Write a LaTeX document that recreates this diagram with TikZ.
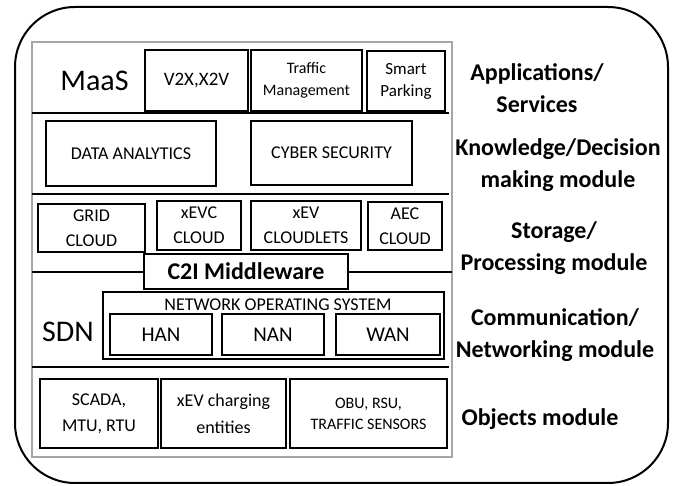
\documentclass[tikz,border=0pt]{standalone}
\usepackage{fontspec}
\setmainfont{Carlito}

\begin{document}
\begin{tikzpicture}[x=1pt, y=-1pt,
	box/.style={draw, line width=1.2pt, inner sep=0pt, align=center, fill=white},
	sepline/.style={line width=2.6pt},
	side/.style={font=\fontsize{24}{32}\selectfont\bfseries, align=center, inner sep=0pt}]

	\useasboundingbox (0,0) rectangle (673,486);

	% frames
	\draw[line width=2pt, rounded corners=60pt] (15,7) rectangle (668,483);
	\draw[gray!70, line width=1.8pt] (32,42) rectangle (452,457);

	% layer borders
	\draw[sepline] (32,113) -- (449,113);
	\draw[sepline] (32,194) -- (449,194);
	\draw[sepline] (32,272) -- (452,272);
	\draw[sepline] (32,367) -- (449,367);

	% applications
	\node[font=\fontsize{30}{36}\selectfont, inner sep=0pt] (maas) at (94.5,81) {MaaS};
	\node[box, minimum width=103pt, minimum height=61pt, font=\fontsize{19}{24}\selectfont] (v2x) at (196.5,80.5) {V2X,X2V};
	\node[box, minimum width=111pt, minimum height=61pt, font=\fontsize{16}{22}\selectfont] (traffic) at (306.5,80.5) {Traffic\\Management};
	\node[box, minimum width=78pt, minimum height=60pt, font=\fontsize{17}{22}\selectfont] (parking) at (406,81) {Smart\\Parking};

	% knowledge
	\node[box, minimum width=170pt, minimum height=65pt, font=\fontsize{18}{22}\selectfont] (data) at (131,153.5) {DATA ANALYTICS};
	\node[box, minimum width=161pt, minimum height=64pt, font=\fontsize{18}{22}\selectfont] (cyber) at (331.5,153) {CYBER SECURITY};

	% storage
	\node[box, minimum width=107pt, minimum height=48pt, font=\fontsize{18}{25}\selectfont] (grid) at (91.5,228) {GRID\\CLOUD};
	\node[box, minimum width=84pt, minimum height=49pt, font=\fontsize{18}{25}\selectfont] (xevc) at (199,225.5) {xEVC\\CLOUD};
	\node[box, minimum width=110pt, minimum height=49pt, font=\fontsize{18}{25}\selectfont] (cloudlets) at (306,225.5) {xEV\\CLOUDLETS};
	\node[box, minimum width=74pt, minimum height=48pt, font=\fontsize{18}{25}\selectfont] (aec) at (405,226) {AEC\\CLOUD};
	\node[box, minimum width=204pt, minimum height=35pt, font=\fontsize{24}{28}\selectfont\bfseries] (mw) at (246,271.5) {C2I Middleware};

	% networking
	\node[font=\fontsize{30}{36}\selectfont, inner sep=0pt] (sdn) at (68,332) {SDN};
	\node[box, minimum width=341pt, minimum height=67pt] (nos) at (273.5,325.5) {};
	\node[font=\fontsize{18}{22}\selectfont, inner sep=0pt] (noslabel) at (278,304.5) {NETWORK OPERATING SYSTEM};
	\node[box, minimum width=102pt, minimum height=41pt, font=\fontsize{21}{24}\selectfont] (han) at (161,334.5) {HAN};
	\node[box, minimum width=102pt, minimum height=41pt, font=\fontsize{21}{24}\selectfont] (nan) at (273,334.5) {NAN};
	\node[box, minimum width=104pt, minimum height=41pt, font=\fontsize{21}{24}\selectfont] (wan) at (388,334.5) {WAN};

	% objects
	\node[box, minimum width=118pt, minimum height=69pt, font=\fontsize{18}{26}\selectfont] (scada) at (99,413.5) {SCADA,\\MTU, RTU};
	\node[box, minimum width=125pt, minimum height=69pt, font=\fontsize{18}{27}\selectfont] (charging) at (223.5,413.5) {xEV charging\\entities};
	\node[box, minimum width=157pt, minimum height=69pt, font=\fontsize{16}{21}\selectfont] (obu) at (368.5,413.5) {OBU, RSU,\\TRAFFIC SENSORS};

	% module names
	\node[side] (apps) at (537,88) {Applications/\\Services};
	\node[side] (know) at (558,165) {Knowledge/Decision\\making module};
	\node[side] (store) at (554,248) {Storage/\\Processing module};
	\node[side] (comm) at (555,335) {Communication/\\Networking module};
	\node[side] (obj) at (540,419) {Objects module};

\end{tikzpicture}
\end{document}
